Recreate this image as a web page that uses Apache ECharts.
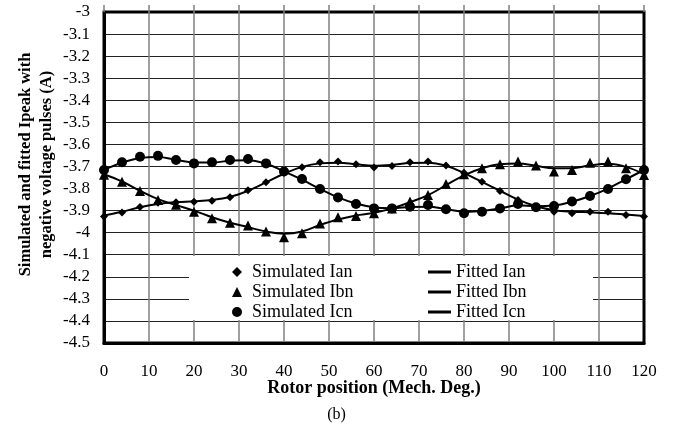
<!DOCTYPE html>
<html lang="en">
<head>
    <meta charset="UTF-8">
    <title>Ipeak vs rotor position</title>
    <script type="text/javascript" src="https://cdn.jsdelivr.net/npm/echarts@6/dist/echarts.min.js"></script>
    <style>
        html, body { margin: 0; padding: 0; background: #fff; }
        #main { width: 673px; height: 434px; }
    </style>
</head>
<body>
<div id="main"></div>
<script type="text/javascript">
    // rotor position, every 4 mech. degrees
    var positions = [0, 4, 8, 12, 16, 20, 24, 28, 32, 36, 40, 44, 48, 52, 56, 60,
        64, 68, 72, 76, 80, 84, 88, 92, 96, 100, 104, 108, 112, 116, 120];

    // simulated points
    var simIan = [-3.927, -3.909, -3.884, -3.864, -3.862, -3.86, -3.855, -3.84, -3.808, -3.772, -3.728,
        -3.704, -3.681, -3.678, -3.69, -3.705, -3.698, -3.681, -3.678, -3.696, -3.728,
        -3.769, -3.811, -3.852, -3.882, -3.905, -3.912, -3.905, -3.905, -3.92, -3.927];
    var simIbn = [-3.737, -3.769, -3.811, -3.852, -3.874, -3.905, -3.935, -3.955, -3.968, -3.995, -4.021,
        -4.003, -3.958, -3.93, -3.924, -3.912, -3.89, -3.859, -3.829, -3.779, -3.735,
        -3.708, -3.69, -3.678, -3.696, -3.723, -3.716, -3.683, -3.678, -3.708, -3.739];
    var simIcn = [-3.716, -3.681, -3.656, -3.652, -3.671, -3.686, -3.681, -3.671, -3.666, -3.686, -3.723,
        -3.757, -3.802, -3.841, -3.87, -3.89, -3.89, -3.882, -3.875, -3.894, -3.912,
        -3.905, -3.89, -3.87, -3.885, -3.879, -3.859, -3.834, -3.802, -3.758, -3.716];

    // fitted curves
    var fitIan = [-3.922, -3.905, -3.885, -3.87, -3.862, -3.858, -3.852, -3.838, -3.81, -3.772, -3.733,
        -3.702, -3.686, -3.683, -3.69, -3.697, -3.693, -3.684, -3.683, -3.697, -3.73,
        -3.77, -3.81, -3.85, -3.88, -3.898, -3.905, -3.908, -3.912, -3.918, -3.925];
    var fitIbn = [-3.735, -3.768, -3.81, -3.848, -3.875, -3.9, -3.93, -3.955, -3.975, -3.995, -4.005,
        -3.995, -3.965, -3.94, -3.922, -3.91, -3.89, -3.862, -3.83, -3.785, -3.74,
        -3.708, -3.69, -3.687, -3.697, -3.708, -3.708, -3.695, -3.688, -3.702, -3.735];
    var fitIcn = [-3.715, -3.683, -3.662, -3.657, -3.67, -3.682, -3.682, -3.674, -3.672, -3.688, -3.722,
        -3.76, -3.802, -3.84, -3.868, -3.885, -3.889, -3.884, -3.882, -3.893, -3.905,
        -3.902, -3.89, -3.876, -3.88, -3.877, -3.86, -3.834, -3.8, -3.758, -3.716];

    var xTicks = [0, 120, 10];      // min, max, interval
    var yTicks = [-4.5, -3, 0.1];

    var serif = '"Liberation Serif", "Times New Roman", serif';

    function pairs(ys) {
        return positions.map(function (x, i) { return [x, ys[i]]; });
    }

    function simSeries(name, ys, symbol, size) {
        return {
            name: name,
            type: 'scatter',
            symbol: symbol,
            symbolSize: size,
            itemStyle: { color: '#000', opacity: 1 },
            data: pairs(ys),
            z: 4
        };
    }

    function fitSeries(name, ys) {
        return {
            name: name,
            type: 'line',
            smooth: 0.4,
            showSymbol: false,
            symbol: 'none',
            lineStyle: { color: '#000', width: 2 },
            itemStyle: { color: '#000' },
            data: pairs(ys),
            z: 3
        };
    }

    var option = {
        animation: false,
        backgroundColor: '#fff',
        textStyle: { fontFamily: serif, color: '#000' },
        title: {
            text: '(b)',
            left: 'center',
            top: 402,
            textStyle: { fontFamily: serif, fontWeight: 'normal', fontSize: 16, color: '#000' }
        },
        grid: {
            left: 104, right: 29, top: 12, bottom: 91,
            show: true,
            borderColor: '#000',
            borderWidth: 3
        },
        graphic: [{
            // white legend panel
            type: 'rect',
            shape: { x: 189, y: 256, width: 404, height: 64 },
            style: { fill: '#fff' },
            z: 1
        }],
        legend: [{
            orient: 'vertical',
            left: 227,
            top: 258,
            itemWidth: 10,
            itemHeight: 10,
            itemGap: 2,
            textStyle: { fontFamily: serif, fontSize: 18, color: '#000', padding: [0, 0, 0, 5] },
            data: [
                { name: 'Simulated Ian', icon: 'diamond', itemStyle: { borderWidth: 0 } },
                { name: 'Simulated Ibn', icon: 'triangle' },
                { name: 'Simulated Icn', icon: 'circle' }
            ],
            z: 10
        }, {
            orient: 'vertical',
            left: 423,
            top: 258,
            itemWidth: 23,
            itemHeight: 3,
            itemGap: 2,
            textStyle: { fontFamily: serif, fontSize: 18, color: '#000' },
            data: [
                { name: 'Fitted Ian', icon: 'rect' },
                { name: 'Fitted Ibn', icon: 'rect' },
                { name: 'Fitted Icn', icon: 'rect' }
            ],
            z: 10
        }],
        xAxis: [{
            type: 'value',
            position: 'bottom',
            min: xTicks[0], max: xTicks[1], interval: xTicks[2],
            name: 'Rotor position (Mech. Deg.)',
            nameLocation: 'middle',
            nameGap: 36,
            nameMoveOverlap: false,
            nameTextStyle: { fontFamily: serif, fontWeight: 'bold', fontSize: 18, color: '#000' },
            axisLine: { show: true, lineStyle: { color: '#000', width: 3 } },
            axisTick: { show: false },
            axisLabel: { margin: 20, fontFamily: serif, fontSize: 17, color: '#000' },
            splitLine: {
                show: true, showMinLine: false, showMaxLine: false,
                lineStyle: { color: '#808080', width: 1.5 }
            }
        }, {
            // top ticks poking above the frame
            type: 'value',
            position: 'top',
            min: xTicks[0], max: xTicks[1], interval: xTicks[2],
            axisLine: { show: false },
            axisTick: { show: true, inside: false, length: 7, lineStyle: { color: '#808080', width: 1.5 } },
            axisLabel: { show: false },
            splitLine: { show: false }
        }],
        yAxis: {
            type: 'value',
            min: yTicks[0], max: yTicks[1], interval: yTicks[2],
            name: 'Simulated and fitted Ipeak with\nnegative voltage pulses (A)',
            nameLocation: 'middle',
            nameRotate: 90,
            nameGap: 47,
            nameMoveOverlap: false,
            nameTextStyle: {
                fontFamily: serif, fontWeight: 'bold', fontSize: 16.5, color: '#000',
                lineHeight: 21, padding: [0, 0, 0, 26]
            },
            axisLine: { show: true, lineStyle: { color: '#000', width: 3 } },
            axisTick: { show: false },
            axisLabel: {
                margin: 14, fontFamily: serif, fontSize: 17, color: '#000',
                formatter: function (v) { return String(Math.round(v * 10) / 10); }
            },
            splitLine: {
                show: true, showMinLine: false, showMaxLine: false,
                lineStyle: { color: '#222', width: 1 }
            }
        },
        series: [
            simSeries('Simulated Ian', simIan, 'diamond', 8),
            simSeries('Simulated Ibn', simIbn, 'triangle', 10),
            simSeries('Simulated Icn', simIcn, 'circle', 10),
            fitSeries('Fitted Ian', fitIan),
            fitSeries('Fitted Ibn', fitIbn),
            fitSeries('Fitted Icn', fitIcn)
        ]
    };

    //初始化echarts实例
    var myChart = echarts.init(document.getElementById('main'));
    myChart.setOption(option);
</script>
</body>
</html>
